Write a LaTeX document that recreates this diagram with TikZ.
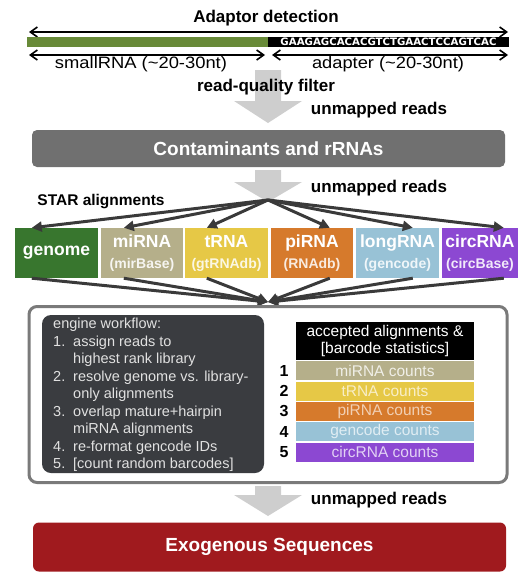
\documentclass[tikz,border=0pt]{standalone}
\usepackage{fontspec}
\setmainfont{Liberation Sans}
\newfontfamily\seqfont{DejaVu Sans}
\usetikzlibrary{arrows.meta,calc}
\definecolor{adgreen}{RGB}{104,138,56}
\definecolor{garrow}{RGB}{206,206,206}
\definecolor{contam}{RGB}{112,112,112}
\definecolor{darkline}{RGB}{58,58,58}
\definecolor{cgenome}{RGB}{56,118,46}
\definecolor{cmirna}{RGB}{181,175,138}
\definecolor{ctrna}{RGB}{230,200,70}
\definecolor{cpirna}{RGB}{214,122,44}
\definecolor{clong}{RGB}{152,194,214}
\definecolor{ccirc}{RGB}{140,72,210}
\definecolor{bigborder}{RGB}{122,122,122}
\definecolor{engine}{RGB}{58,60,64}
\definecolor{enginetext}{RGB}{225,225,225}
\definecolor{exo}{RGB}{160,26,30}
\newcommand{\libsub}{\fontsize{14}{21}\selectfont\bfseries}
\newcommand{\fitwidth}[2]{\resizebox{#1}{\height}{#2}}
\begin{document}
\begin{tikzpicture}[x=1pt,y=-1pt,
  bold17/.style={inner sep=0, font=\fontsize{17}{20}\selectfont\bfseries},
  reg18/.style={inner sep=0, font=\fontsize{16.5}{20}\selectfont},
  dbl/.style={{Straight Barb[length=7pt,width=10pt]}-{Straight Barb[length=7pt,width=10pt]}, line width=1.6pt},
  fanarrow/.style={-{Triangle[length=10pt,width=10pt]}, line width=3pt, draw=darkline},
  libbox/.style={inner sep=0, minimum height=50pt, text=white, align=center,
     font=\fontsize{17.5}{21}\selectfont\bfseries},
  banner/.style={inner sep=0, rounded corners=5pt, text=white,
     font=\fontsize{19}{22}\selectfont\bfseries},
  rowbox/.style={inner sep=0, minimum width=178pt, minimum height=19pt,
     font=\fontsize{15.5}{18}\selectfont},
  num/.style={inner sep=0, font=\fontsize{16}{18}\selectfont\bfseries}]
\useasboundingbox (0,0) rectangle (527,573);

% ---- adaptor detection ----
\node[bold17] (adtitle) at (266,18) {Adaptor detection};
\coordinate (topL) at (29,32);
\coordinate (topR) at (508,32);
\draw[dbl] (topL) -- (topR);
\fill[adgreen] (27,37) rectangle (268,47);
\node[fill=black, minimum width=241pt, minimum height=10pt, inner sep=0,
  text=white, font=\seqfont\fontsize{10.2}{11}\selectfont\bfseries] (adapterbar) at (388.5,42)
  {\fitwidth{216pt}{GAAGAGCACACGTCTGAACTCCAGTCAC}};
\coordinate (smL) at (29,55);
\coordinate (smR) at (265,55);
\coordinate (adL) at (272,55);
\coordinate (adR) at (508,55);
\draw[dbl] (smL) -- (smR);
\draw[dbl] (adL) -- (adR);
\node[reg18] (smalllbl) at (141,64) {\fitwidth{172pt}{smallRNA (\textasciitilde 20-30nt)}};
\node[reg18] (adlbl) at (388,64) {\fitwidth{152pt}{adapter (\textasciitilde 20-30nt)}};

% ---- grey arrow 1 ----
\fill[garrow] (255,70) -- (281,70) -- (281,101) -- (302,101) -- (268,123) -- (234,101) -- (255,101) -- cycle;
\node[bold17] (rqf) at (266,87) {read-quality filter};
\node[bold17] (um1) at (379,110) {unmapped reads};

% ---- contaminants ----
\node[banner, fill=contam, minimum width=473pt, minimum height=37pt] (contam) at (268.5,148.5)
  {Contaminants and rRNAs};

% ---- grey arrow 2 ----
\fill[garrow] (255,170) -- (281,170) -- (281,182) -- (302,182) -- (268,202) -- (234,182) -- (255,182) -- cycle;
\node[bold17] (um2) at (379,188) {unmapped reads};
\node[inner sep=0, font=\fontsize{15.5}{18}\selectfont\bfseries] (star) at (101,202) {STAR alignments};

% ---- library boxes ----
\node[libbox, fill=cgenome, minimum width=83pt] (genome) at (56.5,253) {genome};
\node[libbox, fill=cmirna, minimum width=82pt] (mirna) at (142,253)
  {miRNA\\{\libsub\color{white!88!cmirna}(mirBase)}};
\node[libbox, fill=ctrna, minimum width=83pt] (trna) at (226.5,253)
  {tRNA\\{\libsub\color{white!85!ctrna}(gtRNAdb)}};
\node[libbox, fill=cpirna, minimum width=82pt] (pirna) at (312,253)
  {piRNA\\{\libsub\color{white!85!cpirna}(RNAdb)}};
\node[libbox, fill=clong, minimum width=83pt] (long) at (397.5,253)
  {longRNA\\{\libsub\color{white!85!clong}(gencode)}};
\node[libbox, fill=ccirc, minimum width=76pt] (circ) at (480,253)
  {circRNA\\{\libsub\color{white!88!ccirc}(circBase)}};

% ---- fan out ----
\coordinate (fan) at (268,200);
\draw[fanarrow] (fan) -- ($(genome.north west)+(17,0)$);
\draw[fanarrow] (fan) -- ($(mirna.north west)+(23,0)$);
\draw[fanarrow] (fan) -- ($(trna.north west)+(22,0)$);
\draw[fanarrow] (fan) -- ($(pirna.north west)+(59,0)$);
\draw[fanarrow] (fan) -- ($(long.north west)+(57,0)$);
\draw[fanarrow] (fan) -- ($(circ.north west)+(62,0)$);

% ---- converge ----
\coordinate (conv) at (268,302);
\draw[fanarrow] ($(genome.south west)+(17,0)$) -- (conv);
\draw[fanarrow] ($(mirna.south west)+(23,0)$) -- (conv);
\draw[fanarrow] ($(trna.south west)+(22,0)$) -- (conv);
\draw[fanarrow] ($(pirna.south west)+(59,0)$) -- (conv);
\draw[fanarrow] ($(long.south west)+(57,0)$) -- (conv);
\draw[fanarrow] ($(circ.south west)+(62,0)$) -- (conv);

% ---- engine container ----
\node[draw=bigborder, line width=3pt, rounded corners=8pt, fill=white,
  minimum width=478pt, minimum height=176pt, inner sep=0] (bigbox) at (268,394.5) {};
\node[fill=engine, rounded corners=9pt, minimum width=222pt, minimum height=158pt, inner sep=0] (engbox) at (153,394) {};
\node[anchor=north west, inner sep=0, text=enginetext,
  font=\fontsize{14.5}{17.5}\selectfont] (engtext) at (53,316.5)
  {\begin{tabular}{@{}p{20pt}@{}l@{}}
   \multicolumn{2}{@{}l@{}}{engine workflow:}\\
   1. & assign reads to\\
      & highest rank library\\
   2. & resolve genome vs. library-\\
      & only alignments\\
   3. & overlap mature+hairpin\\
      & miRNA alignments\\
   4. & re-format gencode IDs\\
   5. & {[}count random barcodes{]}
   \end{tabular}};

% ---- table ----
\node[fill=black, text=white, minimum width=178pt, minimum height=38pt, inner sep=0, align=center,
  font=\fontsize{15.5}{17}\selectfont] (thead) at (385,341)
  {accepted alignments \&\\ {[}barcode statistics{]}};
\node[rowbox, fill=cmirna, text=white!80!cmirna] (r1) at (385,370.5) {miRNA counts};
\node[rowbox, fill=ctrna, text=white!70!ctrna] (r2) at (385,391) {tRNA counts};
\node[rowbox, fill=cpirna, text=white!65!cpirna] (r3) at (385,411) {piRNA counts};
\node[rowbox, fill=clong, text=white!70!clong] (r4) at (385,431.5) {gencode counts};
\node[rowbox, fill=ccirc, text=white!75!ccirc] (r5) at (385,452) {circRNA counts};
\node[num] (n1) at (284,370.5) {1};
\node[num] (n2) at (284,391) {2};
\node[num] (n3) at (284,411) {3};
\node[num] (n4) at (284,431.5) {4};
\node[num] (n5) at (284,452) {5};

% ---- grey arrow 3 ----
\fill[garrow] (255,486) -- (281,486) -- (281,495) -- (302,495) -- (268,516) -- (234,495) -- (255,495) -- cycle;
\node[bold17] (um3) at (379,500) {unmapped reads};

% ---- exogenous ----
\node[banner, fill=exo, minimum width=473pt, minimum height=49pt, rounded corners=6pt] (exo) at (269.5,547)
  {Exogenous Sequences};
\end{tikzpicture}
\end{document}
